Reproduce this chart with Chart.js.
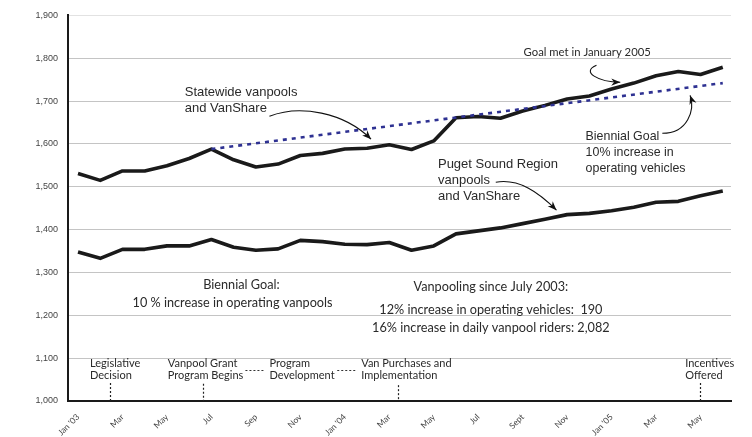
<!DOCTYPE html>
<html>
<head>
<meta charset="utf-8">
<script src="https://cdn.jsdelivr.net/npm/chart.js@4/dist/chart.umd.min.js"></script>
<style>
html,body{margin:0;padding:0;background:#fff;}
#wrap{width:752px;height:437px;position:relative;}
</style>
</head>
<body>
<div id="wrap"><canvas id="c" width="752" height="437"></canvas></div>
<script>
// ---- data ----
const months = ["Jan '03","Feb","Mar","Apr","May","Jun","Jul","Aug","Sep","Oct","Nov","Dec",
  "Jan '04","Feb","Mar","Apr","May","Jun","Jul","Aug","Sept","Oct","Nov","Dec",
  "Jan '05","Feb","Mar","Apr","May","Jun"];
const xTickLabels = ["Jan '03","Mar","May","Jul","Sep","Nov","Jan '04","Mar","May","Jul","Sept","Nov","Jan '05","Mar","May"];
const statewide = [1531,1515,1537,1537,1549,1566,1588,1563,1546,1553,1573,1578,1588,1590,1598,
  1587,1607,1661,1664,1660,1677,1690,1705,1712,1728,1742,1759,1769,1762,1779];
const puget = [1348,1333,1354,1354,1362,1362,1377,1359,1352,1355,1375,1372,1366,1365,1370,
  1352,1362,1390,1397,1404,1414,1424,1435,1438,1444,1452,1464,1466,1479,1490];
const goalIdx = [6, 29];
const goalVals = [1588, 1742];
const yTicks = [1000,1100,1200,1300,1400,1500,1600,1700,1800,1900];

const toPts = (arr) => arr.map((v,i)=>({x:i,y:v}));

const annot = {
  id:'annot',
  afterDraw(chart){
    const {ctx, scales:{x,y}} = chart;
    const P = (i,v)=>[x.getPixelForValue(i), y.getPixelForValue(v)];
    const text = (s,i,v,font,align)=>{
      const [px,py]=P(i,v);
      ctx.font=font; ctx.fillStyle='#2a2a2a'; ctx.textAlign=align||'left'; ctx.textBaseline='middle';
      ctx.fillText(s,px,py);
    };
    const arrow = (pts)=>{
      const q = pts.map(p=>P(p[0],p[1]));
      ctx.save();
      ctx.strokeStyle='#111'; ctx.lineWidth=1.1;
      ctx.beginPath(); ctx.moveTo(q[0][0],q[0][1]);
      ctx.bezierCurveTo(q[1][0],q[1][1],q[2][0],q[2][1],q[3][0],q[3][1]);
      ctx.stroke();
      const ang = Math.atan2(q[3][1]-q[2][1], q[3][0]-q[2][0]);
      const L=9, W=3.6;
      ctx.fillStyle='#111';
      ctx.beginPath();
      ctx.moveTo(q[3][0],q[3][1]);
      ctx.lineTo(q[3][0]-L*Math.cos(ang)+W*Math.sin(ang), q[3][1]-L*Math.sin(ang)-W*Math.cos(ang));
      ctx.lineTo(q[3][0]-L*0.7*Math.cos(ang), q[3][1]-L*0.7*Math.sin(ang));
      ctx.lineTo(q[3][0]-L*Math.cos(ang)-W*Math.sin(ang), q[3][1]-L*Math.sin(ang)+W*Math.cos(ang));
      ctx.closePath(); ctx.fill();
      ctx.restore();
    };
    const vdash = (i,v0)=>{
      const [px,py0]=P(i,v0); const [,py1]=P(i,1000);
      ctx.save(); ctx.strokeStyle='#222'; ctx.lineWidth=1.2; ctx.setLineDash([2,2]);
      ctx.beginPath(); ctx.moveTo(Math.round(px)+0.5,py0); ctx.lineTo(Math.round(px)+0.5,py1); ctx.stroke(); ctx.restore();
    };
    const hdash = (i0,i1,v)=>{
      const [a,py]=P(i0,v); const [b]=P(i1,v);
      ctx.save(); ctx.strokeStyle='#333'; ctx.lineWidth=1.2; ctx.setLineDash([2,2]);
      ctx.beginPath(); ctx.moveTo(a,Math.round(py)+0.5); ctx.lineTo(b,Math.round(py)+0.5); ctx.stroke(); ctx.restore();
    };
    const fA='13px "Liberation Sans", Arial, sans-serif';
    const fA2='12.4px "Liberation Sans", Arial, sans-serif';
    const fG='11.3px Lato, sans-serif';
    const fL='11px Lato, sans-serif';
    const fB='12.7px Lato, sans-serif';
    ctx.save();
    // upper annotations
    text('Statewide vanpools',4.80,1720.5,fA);
    text('and VanShare',4.80,1683,fA);
    arrow([[8.61,1664.5],[9.96,1692.5],[11.97,1674],[13.18,1611]]);
    text('Goal met in January 2005',20.04,1813.7,fG);
    arrow([[23.32,1783.4],[22.6,1768],[23.4,1745],[24.39,1743.8]]);
    text('Biennial Goal',22.83,1617.9,fA2);
    text('10% increase in',22.83,1580.6,fA2);
    text('operating vehicles',22.83,1543.3,fA2);
    arrow([[26.28,1624.9],[27.44,1624.9],[27.75,1680],[27.53,1713.5]]);
    text('Puget Sound Region',16.19,1552.6,fA);
    text('vanpools',16.19,1515.3,fA);
    text('and VanShare',16.19,1478,fA);
    arrow([[18.79,1510.6],[19.82,1520],[20.72,1487.3],[21.52,1445.3]]);
    // middle text
    text('Biennial Goal:',7.35,1270.5,fB,'center');
    text('10 % increase in operating vanpools',6.95,1228.5,fB,'center');
    text('Vanpooling since July 2003:',18.57,1265.8,fB,'center');
    text('12% increase in operating vehicles:  190',18.57,1212.2,fB,'center');
    text('16% increase in daily vanpool riders: 2,082',18.57,1170.2,fB,'center');
    // timeline
    text('Legislative',0.54,1088.6,fL);
    text('Decision',0.54,1060.6,fL);
    vdash(1.43,1042);
    text('Vanpool Grant',4.04,1088.6,fL);
    text('Program Begins',4.04,1060.6,fL);
    vdash(5.6,1040);
    hdash(7.53,8.39,1072.3);
    text('Program',8.61,1088.6,fL);
    text('Development',8.61,1060.6,fL);
    hdash(11.66,12.56,1072.3);
    text('Van Purchases and',12.74,1088.6,fL);
    text('Implementation',12.74,1060.6,fL);
    vdash(14.39,1037);
    text('Incentives',27.31,1088.6,fL);
    text('Offered',27.31,1060.6,fL);
    vdash(27.98,1042);
    ctx.restore();
  }
};

new Chart(document.getElementById('c'), {
  type:'line',
  data:{
    datasets:[
      {label:'Goal', data: goalIdx.map((g,k)=>({x:g,y:goalVals[k]})), borderColor:'#2e3192', borderWidth:2.6,
       borderDash:[4,5], pointRadius:0, fill:false, tension:0},
      {label:'Statewide', data: toPts(statewide), borderColor:'#1a1a1a', borderWidth:3.6, pointRadius:0, tension:0, borderJoinStyle:'round'},
      {label:'Puget Sound', data: toPts(puget), borderColor:'#1a1a1a', borderWidth:3.6, pointRadius:0, tension:0, borderJoinStyle:'round'}
    ]
  },
  options:{
    responsive:false, animation:false,
    layout:{padding:{left:0,right:21,top:15,bottom:0}},
    plugins:{legend:{display:false}, tooltip:{enabled:false}},
    scales:{
      x:{type:'linear', min:-0.45, max:29.37,
        afterBuildTicks(s){ s.ticks = xTickLabels.map((l,k)=>({value:k*2})); },
        afterFit(s){ s.height = 36; },
        ticks:{autoSkip:false, minRotation:45, maxRotation:45, padding:11,
          color:'#444', font:{family:'Lato, sans-serif', size:8.5},
          callback:(v)=> xTickLabels[v/2] },
        grid:{display:false, drawTicks:false},
        border:{display:true, color:'#1a1a1a', width:2}
      },
      y:{min:1000, max:1900,
        afterBuildTicks(s){ s.ticks = yTicks.map(v=>({value:v})); },
        afterFit(s){ s.width = 68; },
        ticks:{color:'#444', padding:10, font:{family:'"Liberation Sans", Arial, sans-serif', size:9},
          callback:(v)=> v.toLocaleString('en-US')},
        grid:{color:(c)=> c.tick && c.tick.value===1900 ? '#e2e2e2' : '#c4c4c4', lineWidth:1, drawTicks:false},
        border:{display:true, color:'#1a1a1a', width:2}
      }
    }
  },
  plugins:[annot]
});
</script>
</body>
</html>
